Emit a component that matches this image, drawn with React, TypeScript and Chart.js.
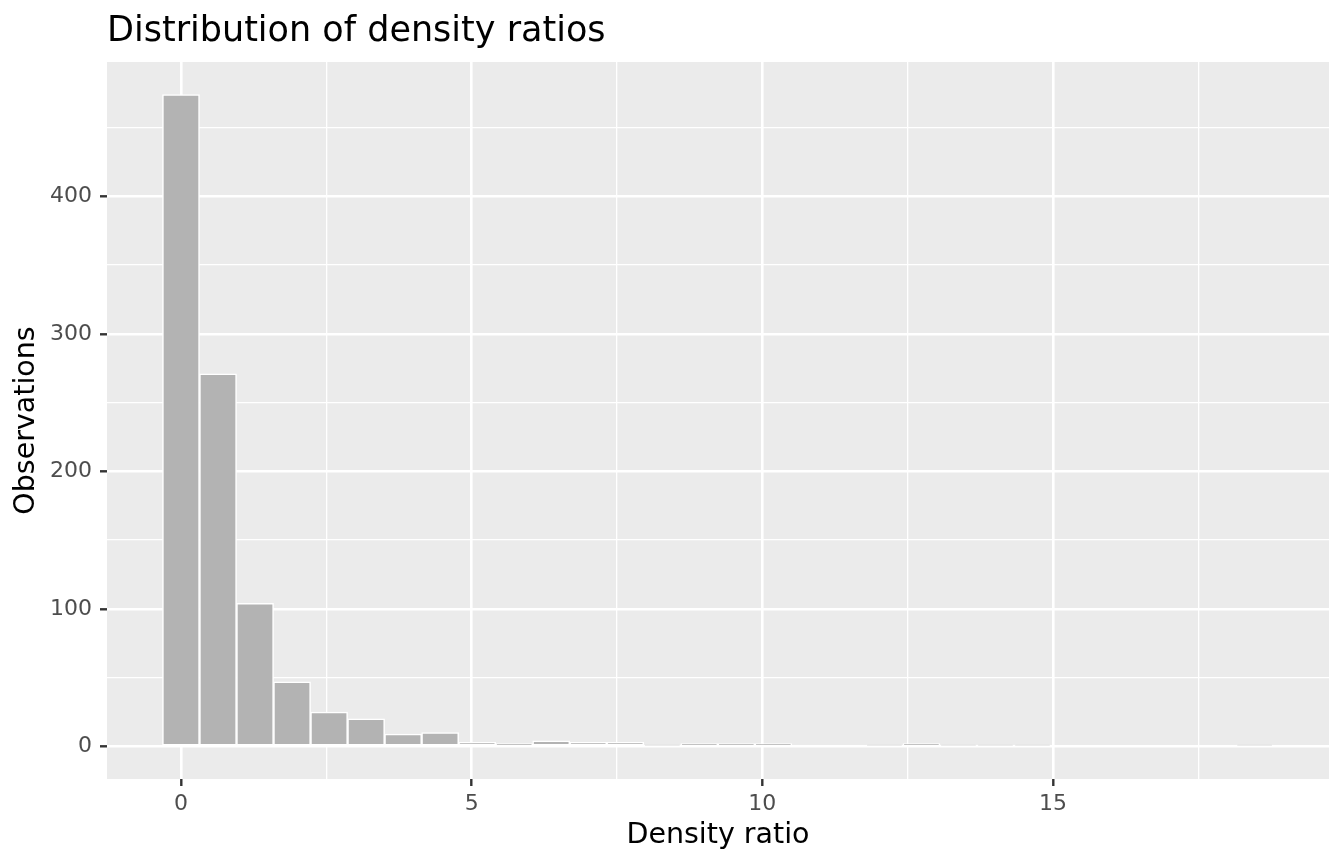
import { useEffect, useRef } from 'react';
import { Chart, registerables } from 'chart.js';

Chart.register(...registerables);

// histogram bins (ggplot default: 30 bins)
const BIN_WIDTH = 0.6369;
const COUNTS = [474, 271, 104, 47, 25, 20, 9, 10, 3, 2, 4, 3, 3, 1, 2, 2, 2, 0, 0, 1, 2, 1, 1, 1, 0, 0, 0, 0, 0, 1];
const BIN_CENTERS = COUNTS.map((_, i) => i * BIN_WIDTH);

const X_MAJOR = [0, 5, 10, 15];
const X_MINOR = [2.5, 7.5, 12.5, 17.5];
const Y_MAJOR = [0, 100, 200, 300, 400];
const Y_MINOR = [50, 150, 250, 350, 450];

const X_RANGE = [-1.273, 19.75];
const Y_RANGE = [-23.7, 497.7];

const TITLE = 'Distribution of density ratios';
const X_TITLE = 'Density ratio';
const Y_TITLE = 'Observations';

const FONT = 'DejaVu Sans';
const PANEL_BG = '#EBEBEB';
const BAR_FILL = '#B3B3B3';

const panelPlugin = {
  id: 'panelBg',
  beforeDraw(chart: any) {
    const { ctx, chartArea: a } = chart;
    ctx.save();
    ctx.fillStyle = PANEL_BG;
    ctx.fillRect(a.left, a.top, a.right - a.left, a.bottom - a.top);
    ctx.restore();
  },
};

const titlePlugin = {
  id: 'ggTitle',
  afterDraw(chart: any) {
    const { ctx, chartArea: a } = chart;
    ctx.save();
    ctx.font = `35px "${FONT}"`;
    ctx.fillStyle = '#000000';
    ctx.textAlign = 'left';
    ctx.textBaseline = 'alphabetic';
    ctx.fillText(TITLE, a.left, 41);
    ctx.restore();
  },
};

const isMajor = (v: number, list: number[]) => list.some(m => Math.abs(m - v) < 1e-6);

export default function App() {
  const canvasRef = useRef<HTMLCanvasElement>(null);

  useEffect(() => {
    document.body.style.margin = '0';
    if (!canvasRef.current) return;

    const chart = new Chart(canvasRef.current, {
      type: 'bar',
      data: {
        datasets: [{
          data: BIN_CENTERS.map((x, i) => ({ x, y: COUNTS[i] })),
          backgroundColor: BAR_FILL,
          borderColor: '#FFFFFF',
          borderWidth: 1.5,
          borderSkipped: false,
          barPercentage: 1,
          categoryPercentage: 1,
        }],
      },
      options: {
        responsive: false,
        maintainAspectRatio: false,
        animation: false,
        layout: { padding: { top: 62, right: 15, left: 0, bottom: 0 } },
        plugins: {
          legend: { display: false },
          tooltip: { enabled: false },
          title: { display: false },
        },
        scales: {
          x: {
            type: 'linear',
            min: X_RANGE[0],
            max: X_RANGE[1],
            offset: false,
            afterBuildTicks: (scale: any) => {
              scale.ticks = [...X_MAJOR, ...X_MINOR].sort((a, b) => a - b).map(v => ({ value: v }));
            },
            afterFit: (scale: any) => { scale.height = 85; },
            border: { display: false },
            grid: {
              offset: false,
              color: '#FFFFFF',
              lineWidth: (c: any) => (isMajor(c.tick?.value, X_MAJOR) ? 2.6 : 1.3),
              drawTicks: true,
              tickLength: 7,
              tickWidth: 2.4,
              tickColor: (c: any) => (isMajor(c.tick?.value, X_MAJOR) ? '#333333' : 'rgba(0,0,0,0)'),
            },
            ticks: {
              autoSkip: false,
              maxRotation: 0,
              padding: 5,
              color: '#4D4D4D',
              font: { family: FONT, size: 22 },
              callback: (v: any) => (isMajor(Number(v), X_MAJOR) ? String(v) : ''),
            },
            title: {
              display: true,
              text: X_TITLE,
              color: '#000000',
              font: { family: FONT, size: 28.5 },
              padding: { top: 0, bottom: 11 },
            },
          },
          y: {
            type: 'linear',
            min: Y_RANGE[0],
            max: Y_RANGE[1],
            afterBuildTicks: (scale: any) => {
              scale.ticks = [...Y_MAJOR, ...Y_MINOR].sort((a, b) => a - b).map(v => ({ value: v }));
            },
            afterFit: (scale: any) => { scale.width = 107; },
            border: { display: false },
            grid: {
              color: '#FFFFFF',
              lineWidth: (c: any) => (isMajor(c.tick?.value, Y_MAJOR) ? 2.6 : 1.3),
              drawTicks: true,
              tickLength: 7,
              tickWidth: 2.4,
              tickColor: (c: any) => (isMajor(c.tick?.value, Y_MAJOR) ? '#333333' : 'rgba(0,0,0,0)'),
            },
            ticks: {
              autoSkip: false,
              padding: 8,
              color: '#4D4D4D',
              font: { family: FONT, size: 22 },
              callback: (v: any) => (isMajor(Number(v), Y_MAJOR) ? String(v) : ''),
            },
            title: {
              display: true,
              text: Y_TITLE,
              color: '#000000',
              font: { family: FONT, size: 28.5 },
              padding: { top: 9, bottom: 0 },
            },
          },
        },
      },
      plugins: [panelPlugin, titlePlugin],
    });

    return () => chart.destroy();
  }, []);

  return (
    <div style={{ width: 1344, height: 864, background: '#FFFFFF' }}>
      <canvas ref={canvasRef} width={1344} height={864} />
    </div>
  );
}
